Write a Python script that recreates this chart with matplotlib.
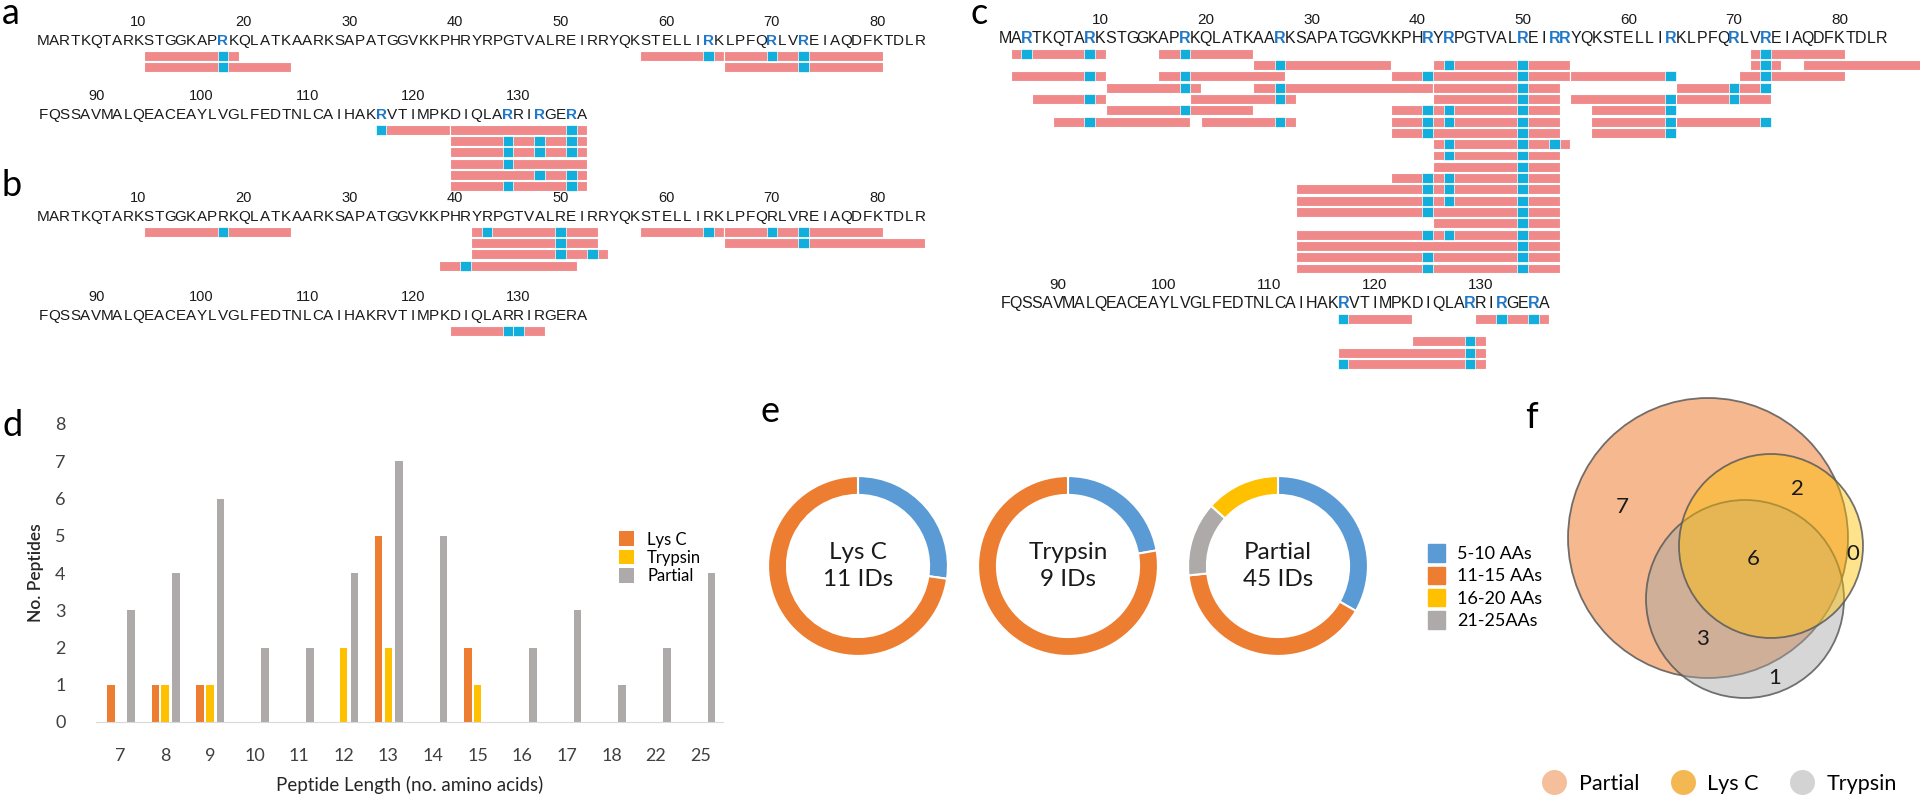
import matplotlib
matplotlib.use("Agg")
import matplotlib.pyplot as plt
from matplotlib.lines import Line2D
from matplotlib.patches import Circle

W, H = 1920, 798

# ---- sequences (histone H3) ----
SEQ_ROW1 = "MARTKQTARKSTGGKAPRKQLATKAARKSAPATGGVKKPHRYRPGTVALREIRRYQKSTELLIRKLPFQRLVREIAQDFKTDLR"
SEQ_ROW2 = "FQSSAVMALQEACEAYLVGLFEDTNLCAIHAKRVTIMPKDIQLARRIRGERA"
TICKS_ROW1 = [10, 20, 30, 40, 50, 60, 70, 80]
TICKS_ROW2 = [90, 100, 110, 120, 130]

# peptides: (stack row, first residue, last residue, modified residues)
a_hl_row1 = [18, 64, 70, 73]
a_hl_row2 = [117, 129, 132, 135]
a_pep_row1 = [(1, 11, 19, [18]), (1, 58, 65, [64]), (1, 66, 80, [70, 73]),
              (2, 11, 24, [18]), (2, 66, 80, [73])]
a_pep_row2 = [(1, 117, 123, [117]), (1, 124, 136, [135]),
              (2, 124, 136, [129, 132, 135]), (3, 124, 136, [129, 132, 135]),
              (4, 124, 136, [129]), (5, 124, 136, [132, 135]),
              (6, 124, 136, [129, 135])]

b_pep_row1 = [(1, 11, 24, [18]), (1, 42, 53, [43, 50]), (1, 58, 65, [64]),
              (1, 66, 80, [70, 73]), (2, 42, 53, [50]), (2, 66, 84, [73]),
              (3, 42, 54, [50, 53]), (4, 39, 51, [41])]
b_pep_row2 = [(1, 124, 132, [129, 130])]

c_hl_row1 = [3, 9, 18, 27, 41, 43, 50, 53, 54, 64, 70, 73]
c_hl_row2 = [117, 129, 132, 135]
c_pep_row1 = [
    (1, 2, 10, [3, 9]), (1, 16, 24, [18]), (1, 72, 80, [73]),
    (2, 25, 37, [27]), (2, 42, 54, [43, 50]), (2, 72, 74, [73]), (2, 77, 88, []),
    (3, 2, 10, [9]), (3, 16, 27, [18]), (3, 38, 54, [41, 50]), (3, 55, 64, [64]), (3, 71, 80, [73]),
    (4, 11, 19, [18]), (4, 25, 41, [27]), (4, 42, 53, [50]), (4, 65, 73, [70, 73]),
    (5, 4, 10, [9]), (5, 19, 28, [27]), (5, 42, 53, [50]), (5, 55, 64, [64]), (5, 65, 73, [70]),
    (6, 11, 24, [18]), (6, 38, 53, [41, 43, 50]), (6, 57, 64, [64]),
    (7, 6, 18, [9]), (7, 20, 28, [27]), (7, 38, 53, [41, 43, 50]), (7, 57, 64, [64]), (7, 65, 73, [73]),
    (8, 38, 53, [41, 50]), (8, 57, 64, [64]),
    (9, 42, 54, [43, 50, 53]),
    (10, 42, 53, [43, 50]),
    (11, 42, 53, [50]),
    (12, 38, 53, [41, 43, 50]),
    (13, 29, 53, [41, 43, 50]),
    (14, 29, 53, [41, 43, 50]),
    (15, 29, 53, [41, 50]),
    (16, 42, 53, [50]),
    (17, 29, 53, [41, 43, 50]),
    (18, 29, 53, [50]),
    (19, 29, 53, [41, 50]),
    (20, 29, 53, [41, 50]),
]
c_pep_row2 = [(1, 117, 123, [117]), (1, 130, 136, [132, 135]),
              (3, 124, 130, [129]), (4, 117, 130, [129]), (5, 117, 130, [117, 129])]

# ---- panel d ----
pep_lengths = ["7", "8", "9", "10", "11", "12", "13", "14", "15", "16", "17", "18", "22", "25"]
lysc_counts = [1, 1, 1, 0, 0, 0, 5, 0, 2, 0, 0, 0, 0, 0]
tryp_counts = [0, 1, 1, 0, 0, 2, 2, 0, 1, 0, 0, 0, 0, 0]
part_counts = [3, 4, 6, 2, 2, 4, 7, 5, 0, 2, 3, 1, 2, 4]

# ---- panel e ----
len_bins = ["5-10 AAs", "11-15 AAs", "16-20 AAs", "21-25AAs"]
donut_names = ["Lys C\n11 IDs", "Trypsin\n9 IDs", "Partial\n45 IDs"]
lysc_bins = [3, 8, 0, 0]
tryp_bins = [2, 7, 0, 0]
part_bins = [15, 18, 6, 6]

# ---- panel f ----
venn_sets = ["Partial", "Lys C", "Trypsin"]
venn_counts = {"P": 7, "PL": 2, "PLT": 6, "L": 0, "PT": 3, "T": 1}

PINK = "#F08A8A"
CYAN = "#12AEDC"
RBLUE = "#1F78C8"
ORANGE = "#ED7D31"
YELLOW = "#FFC000"
GREY = "#AEAAAA"
BLUE = "#5B9BD5"
SEQ_FONT = "Liberation Sans"
LBL_FONT = "Lato"

STEP = 10.56   # px per residue
UNIT = 11.3    # px per peptide row

fig = plt.figure(figsize=(W / 100, H / 100), dpi=100)


def px_axes(x0, y0, w, h):
    return fig.add_axes([x0 / W, 1 - (y0 + h) / H, w / W, h / H])


def seq_block(x_left, seq_y, seq, first, ticks, highlights, peptides, nrows, fs=11):
    n = len(seq)
    top_u, bot_u = -2.6, 1.4 + nrows + 0.1
    ax = px_axes(x_left, seq_y + top_u * UNIT, n * STEP + 60, (bot_u - top_u) * UNIT)
    ax.set_xlim(first - 0.5, first - 0.5 + (n * STEP + 60) / STEP)
    ax.set_ylim(bot_u, top_u)
    ax.axis("off")
    for i, aa in enumerate(seq):
        k = first + i
        ax.text(k, 0.08, aa, ha="center", va="center", fontsize=fs, family=SEQ_FONT,
                color=RBLUE if k in highlights else "#1a1a1a",
                fontweight="bold" if k in highlights else "normal")
    for t in ticks:
        ax.text(t, -1.55, str(t), ha="center", va="center", fontsize=fs - 0.5,
                family=SEQ_FONT, color="#1a1a1a")
    for row, s, e, mods in peptides:
        y = 1.4 + (row - 1)
        ax.barh(y, e - s + 1, left=s - 0.5, height=0.88, color=PINK,
                edgecolor="white", linewidth=0.8)
        for m in mods:
            ax.barh(y, 1, left=m - 0.5, height=0.88, color=CYAN, edgecolor="white",
                    linewidth=0.5)
    return ax


# panels a, b, c
seq_block(38, 40, SEQ_ROW1, 1, TICKS_ROW1, a_hl_row1, a_pep_row1, 2)
seq_block(38, 114, SEQ_ROW2, 85, TICKS_ROW2, a_hl_row2, a_pep_row2, 6)
seq_block(38, 216, SEQ_ROW1, 1, TICKS_ROW1, [], b_pep_row1, 4)
seq_block(38, 315, SEQ_ROW2, 85, TICKS_ROW2, [], b_pep_row2, 1)
seq_block(1000, 38, SEQ_ROW1, 1, TICKS_ROW1, c_hl_row1, c_pep_row1, 20, fs=11.5)
seq_block(1000, 303, SEQ_ROW2, 85, TICKS_ROW2, c_hl_row2, c_pep_row2, 5, fs=11.5)

# panel d
axd = px_axes(96, 424, 627, 298)
x = list(range(len(pep_lengths)))
bw = 0.17
b1 = axd.bar([i - 0.22 for i in x], lysc_counts, bw, color=ORANGE, label="Lys C")
b2 = axd.bar(x, tryp_counts, bw, color=YELLOW, label="Trypsin")
b3 = axd.bar([i + 0.24 for i in x], part_counts, bw, color=GREY, label="Partial")
axd.set_xlim(-0.55, 13.5)
axd.set_ylim(0, 8)
axd.set_xticks(x)
axd.set_xticklabels(pep_lengths)
axd.set_yticks(range(9))
for s in ["top", "right", "left"]:
    axd.spines[s].set_visible(False)
axd.spines["bottom"].set_color("#D9D9D9")
axd.tick_params(length=0, labelsize=13, colors="#404040")
axd.tick_params(axis="x", pad=19)
axd.tick_params(axis="y", pad=22)
for lab in axd.get_xticklabels() + axd.get_yticklabels():
    lab.set_family(LBL_FONT)
axd.set_xlabel("Peptide Length (no. amino acids)", fontsize=13.5, family=LBL_FONT,
               color="#262626", labelpad=8)
axd.set_ylabel("No. Peptides", fontsize=12.5, family=LBL_FONT, color="#262626",
               fontweight="semibold", labelpad=8)
axd.legend(handles=[b1, b2, b3], loc="upper left", bbox_to_anchor=(0.81, 0.69),
           frameon=False, prop={"family": LBL_FONT, "size": 12},
           handlelength=0.9, handleheight=1.0, labelspacing=0.12, handletextpad=0.8)

# panel e
donut_cx = [858, 1068, 1278]
donut_cy = 566
r = 90
order = [0, 1, 3, 2]
bin_colors = [BLUE, ORANGE, YELLOW, GREY]
for name, vals, cx in zip(donut_names, [lysc_bins, tryp_bins, part_bins], donut_cx):
    axe = px_axes(cx - r - 4, donut_cy - r - 4, 2 * r + 8, 2 * r + 8)
    v = [vals[i] for i in order if vals[i] > 0]
    c = [bin_colors[i] for i in order if vals[i] > 0]
    axe.pie(v, colors=c, startangle=90, counterclock=False, radius=1,
            wedgeprops=dict(width=0.21, edgecolor="white", linewidth=1.5))
    axe.set_xlim(-1.045, 1.045)
    axe.set_ylim(-1.045, 1.045)
    axe.set_aspect("equal")
    axe.text(0, 0, name, ha="center", va="center", fontsize=17.5, family=LBL_FONT,
             color="#1a1a1a", linespacing=1.35)

handles_e = [plt.Rectangle((0, 0), 1, 1, color=col) for col in bin_colors]
fig.legend(handles_e, len_bins, loc="upper left", bbox_to_anchor=(1412 / W, 1 - 528 / H),
           frameon=False, prop={"family": LBL_FONT, "size": 13},
           handlelength=0.9, handleheight=1.1, labelspacing=0.25, handletextpad=0.7)

# panel f
axf = px_axes(1540, 375, 380, 340)
axf.set_xlim(1540, 1920)
axf.set_ylim(715, 375)
axf.set_aspect("equal")
axf.axis("off")
venn_geom = {"Partial": (1708, 538, 140, "#F4B183", 0.9),
             "Trypsin": (1745, 599, 99, "#A5A5A5", 0.45),
             "Lys C": (1771, 546, 92, "#FFC000", 0.45)}
for key in ["Partial", "Trypsin", "Lys C"]:
    cx, cy, rr, col, al = venn_geom[key]
    axf.add_patch(Circle((cx, cy), rr, facecolor=col, alpha=al, edgecolor="none"))
    axf.add_patch(Circle((cx, cy), rr, facecolor="none", edgecolor="#5a5a5a",
                         linewidth=1.3, alpha=0.85))
venn_label_pos = {"P": (1622, 507), "PL": (1797, 489), "PLT": (1753, 559),
                  "L": (1853, 554), "PT": (1702, 639), "T": (1775, 678)}
for key, val in venn_counts.items():
    axf.text(*venn_label_pos[key], str(val), ha="center", va="center", fontsize=16,
             family=LBL_FONT, color="#1a1a1a")

venn_colors = ["#F5BF9C", "#F4B853", "#D3D3D3"]
handles_f = [Line2D([], [], marker="o", linestyle="none", markersize=18,
                    markerfacecolor=col, markeredgecolor="none") for col in venn_colors]
fig.legend(handles_f, venn_sets, loc="center right", bbox_to_anchor=(1910 / W, 1 - 784 / H),
           ncol=3, frameon=False, prop={"family": LBL_FONT, "size": 15.5},
           handletextpad=0.15, columnspacing=1.0, borderpad=0.1)

# panel letters
for letter, (lx, ly) in {"a": (2, 14), "b": (2, 186), "c": (970, 14), "d": (2, 426),
                         "e": (760, 412), "f": (1525, 418)}.items():
    fig.text(lx / W, 1 - ly / H, letter, fontsize=26, family=LBL_FONT, va="center",
             ha="left", color="black")

fig.savefig("out.png", dpi=100)
